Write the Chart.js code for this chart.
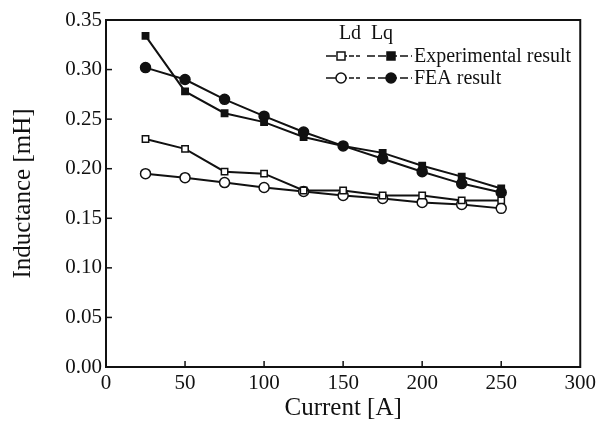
<!DOCTYPE html>
<html>
<head>
<meta charset="utf-8">
<script src="https://cdn.jsdelivr.net/npm/chart.js@4/dist/chart.umd.min.js"></script>
<style>
  html, body { margin: 0; padding: 0; background: #fff; }
  #wrap { width: 600px; height: 427px; }
</style>
</head>
<body>
<div id="wrap"><canvas id="c" width="600" height="427"></canvas></div>
<script>
// Current steps [A]
const current = [25, 50, 75, 100, 125, 150, 175, 200, 225, 250];
// Inductance [mH]
const lqExperimental = [0.334, 0.278, 0.256, 0.247, 0.232, 0.223, 0.216, 0.203, 0.192, 0.180];
const lqFea          = [0.302, 0.290, 0.270, 0.253, 0.237, 0.223, 0.210, 0.197, 0.185, 0.176];
const ldExperimental = [0.230, 0.220, 0.197, 0.195, 0.178, 0.178, 0.173, 0.173, 0.168, 0.168];
const ldFea          = [0.195, 0.191, 0.186, 0.181, 0.177, 0.173, 0.170, 0.166, 0.164, 0.160];

const xTicks = [0, 50, 100, 150, 200, 250, 300];
const yTicks = [0.00, 0.05, 0.10, 0.15, 0.20, 0.25, 0.30, 0.35];

const FONT = "'Liberation Serif', 'Times New Roman', serif";
const INK = '#111';

function pts(ys) { return current.map((x, i) => ({ x, y: ys[i] })); }

function series(label, ys, shape, filled) {
  return {
    label,
    data: pts(ys),
    borderColor: INK,
    borderWidth: 2,
    backgroundColor: filled ? INK : '#fff',
    pointStyle: shape,
    pointRadius: shape === 'rect' ? 4.5 : 5,
    pointBorderWidth: 1.5,
    pointBorderColor: INK,
    pointBackgroundColor: filled ? INK : '#fff',
    tension: 0,
    fill: false
  };
}

// Frame, inward ticks and the Ld/Lq key
const framePlugin = {
  id: 'frame',
  afterDraw(chart) {
    const { ctx, chartArea: a, scales } = chart;
    ctx.save();
    ctx.strokeStyle = INK;
    ctx.lineWidth = 2;
    ctx.strokeRect(a.left, a.top, a.right - a.left, a.bottom - a.top);
    ctx.lineWidth = 1.5;
    xTicks.slice(1, -1).forEach(v => {
      const px = scales.x.getPixelForValue(v);
      ctx.beginPath(); ctx.moveTo(px, a.bottom); ctx.lineTo(px, a.bottom - 6); ctx.stroke();
    });
    yTicks.slice(1, -1).forEach(v => {
      const py = scales.y.getPixelForValue(v);
      ctx.beginPath(); ctx.moveTo(a.left, py); ctx.lineTo(a.left + 6, py); ctx.stroke();
    });

    // key
    ctx.fillStyle = INK;
    ctx.font = '20px ' + FONT;
    ctx.textBaseline = 'middle';
    ctx.textAlign = 'center';
    ctx.fillText('Ld', 350, 34);
    ctx.fillText('Lq', 382, 34);
    const rows = [
      { y: 56, shape: 'rect', text: 'Experimental result' },
      { y: 78, shape: 'circle', text: 'FEA result' }
    ];
    const mark = (cx, cy, shape, filled) => {
      ctx.beginPath();
      if (shape === 'rect') ctx.rect(cx - 4, cy - 4, 8, 8);
      else ctx.arc(cx, cy, 5, 0, Math.PI * 2);
      ctx.fillStyle = filled ? INK : '#fff';
      ctx.fill();
      ctx.lineWidth = 1.5;
      ctx.strokeStyle = INK;
      ctx.stroke();
    };
    rows.forEach(r => {
      ctx.lineWidth = 1.5;
      ctx.strokeStyle = INK;
      ctx.beginPath(); ctx.moveTo(326, r.y); ctx.lineTo(336, r.y); ctx.stroke();
      ctx.setLineDash([5, 2]);
      ctx.beginPath(); ctx.moveTo(342, r.y); ctx.lineTo(360, r.y); ctx.stroke();
      ctx.setLineDash([8, 3]);
      ctx.beginPath(); ctx.moveTo(367, r.y); ctx.lineTo(412, r.y); ctx.stroke();
      ctx.setLineDash([]);
      mark(341, r.y, r.shape, false);
      mark(391, r.y, r.shape, true);
      ctx.fillStyle = INK;
      ctx.textAlign = 'left';
      ctx.font = '20px ' + FONT;
      ctx.fillText(r.text, 414, r.y + 1);
    });
    ctx.restore();
  }
};

new Chart(document.getElementById('c'), {
  type: 'line',
  data: {
    datasets: [
      series('Lq experimental', lqExperimental, 'rect', true),
      series('Lq FEA', lqFea, 'circle', true),
      series('Ld experimental', ldExperimental, 'rect', false),
      series('Ld FEA', ldFea, 'circle', false)
    ]
  },
  options: {
    responsive: false,
    animation: false,
    layout: { padding: { top: 20, right: 19, left: 0, bottom: 0 } },
    plugins: { legend: { display: false }, tooltip: { enabled: false } },
    scales: {
      x: {
        type: 'linear',
        min: 0, max: 300,
        afterBuildTicks: s => { s.ticks = xTicks.map(v => ({ value: v })); },
        afterFit: s => { s.height = 60; },
        grid: { display: false, drawTicks: false },
        border: { display: false },
        ticks: { color: INK, padding: 4, maxRotation: 0, font: { family: FONT, size: 21 } },
        title: { display: true, text: 'Current [A]', color: INK, padding: { top: 0 }, font: { family: FONT, size: 25 } }
      },
      y: {
        min: 0, max: 0.35,
        afterBuildTicks: s => { s.ticks = yTicks.map(v => ({ value: v })); },
        afterFit: s => { s.width = 106; },
        grid: { display: false, drawTicks: false },
        border: { display: false },
        ticks: { color: INK, padding: 4, font: { family: FONT, size: 21 }, callback: v => v.toFixed(2) },
        title: { display: true, text: 'Inductance [mH]', color: INK, padding: { top: 8 }, font: { family: FONT, size: 25 } }
      }
    }
  },
  plugins: [framePlugin]
});
</script>
</body>
</html>
